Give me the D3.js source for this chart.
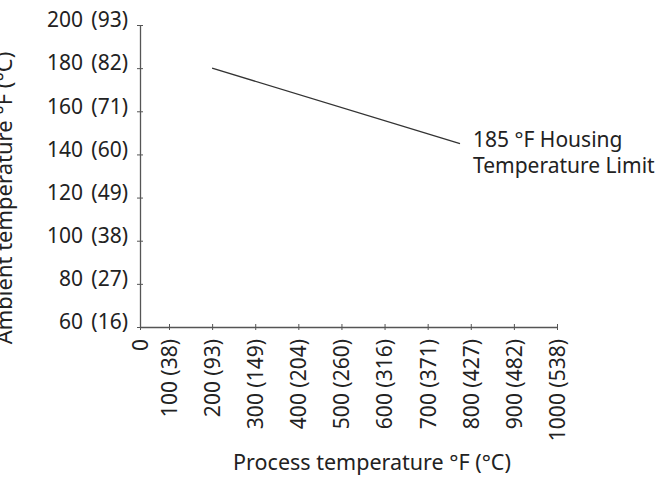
<!DOCTYPE html>
<html>
<head>
<meta charset="utf-8">
<script src="https://cdn.jsdelivr.net/npm/d3@7"></script>
<style>
  body { margin: 0; background: #fff; }
  text { font-family: "Noto Sans", sans-serif; fill: #222; }
</style>
</head>
<body>
<script>
var xTicks = [0, 100, 200, 300, 400, 500, 600, 700, 800, 900, 1000],
	xTickLabels = ["0", "100 (38)", "200 (93)", "300 (149)", "400 (204)", "500 (260)",
		"600 (316)", "700 (371)", "800 (427)", "900 (482)", "1000 (538)"],
	yTicks = [60, 80, 100, 120, 140, 160, 180, 200],
	yTickLabels = ["60 (16)", "80 (27)", "100 (38)", "120 (49)", "140 (60)",
		"160 (71)", "180 (82)", "200 (93)"],
	limitProcess = [200, 775],
	limitAmbient = [180, 145],
	limitLabel = ["185 °F Housing", "Temperature Limit"];

var w = 666,
	h = 483,
	axisColor = "#555";

var svg = d3.select("body")
	.append("svg")
	.attr("width", w)
	.attr("height", h);

// the first interval (0-100) is drawn shorter than the rest
var x = d3.scaleLinear()
	.domain([0, 100, 1000])
	.range([140, 169, 557]);

var y = d3.scaleLinear()
	.domain([60, 200])
	.range([327, 25]);

// y axis
var yAxis = svg.append("g")
	.attr("transform", "translate(" + x(0) + ",0)")
	.call(d3.axisLeft(y)
		.tickValues(yTicks)
		.tickSizeOuter(0)
		.tickFormat(function (d, i) { return yTickLabels[i]; }));

yAxis.select(".domain").attr("stroke", axisColor).attr("stroke-width", 1.3);
yAxis.selectAll(".tick line")
	.attr("x1", 3).attr("x2", -3)
	.attr("stroke", axisColor);
yAxis.selectAll(".tick text")
	.attr("x", -12)
	.attr("y", -5)
	.style("font-size", "21px")
	.style("word-spacing", "3px")
	.style("font-family", "'Noto Sans', sans-serif")
	.attr("fill", "#222");

// x axis
var xAxis = svg.append("g")
	.attr("transform", "translate(0," + y(60) + ")")
	.call(d3.axisBottom(x)
		.tickValues(xTicks)
		.tickSizeOuter(0)
		.tickFormat(function (d, i) { return xTickLabels[i]; }));

xAxis.select(".domain").attr("stroke", axisColor).attr("stroke-width", 1.3);
xAxis.selectAll(".tick line")
	.attr("y1", -3).attr("y2", 3)
	.attr("stroke", axisColor);
xAxis.selectAll(".tick text")
	.attr("transform", "rotate(-90)")
	.attr("text-anchor", "end")
	.attr("x", -12)
	.attr("y", 0)
	.attr("dy", "0.35em")
	.style("font-size", "21px")
	.style("font-family", "'Noto Sans', sans-serif")
	.attr("fill", "#222");

// housing temperature limit line
var pts = limitProcess.map(function (d, i) { return [d, limitAmbient[i]]; });

svg.append("path")
	.datum(pts)
	.attr("fill", "none")
	.attr("stroke", "#333")
	.attr("stroke-width", 1.3)
	.attr("d", d3.line()
		.x(function (d) { return x(d[0]); })
		.y(function (d) { return y(d[1]); }));

svg.append("text")
	.attr("x", 473)
	.attr("y", 147)
	.style("font-size", "21px")
	.selectAll("tspan")
	.data(limitLabel)
	.enter()
	.append("tspan")
	.attr("x", 473)
	.attr("dy", function (d, i) { return i ? 26 : 0; })
	.text(function (d) { return d; });

// axis titles
svg.append("text")
	.attr("x", 372)
	.attr("y", 470)
	.attr("text-anchor", "middle")
	.style("font-size", "21.5px")
	.text("Process temperature °F (°C)");

svg.append("text")
	.attr("transform", "translate(12,198) rotate(-90)")
	.attr("text-anchor", "middle")
	.style("font-size", "22px")
	.text("Ambient temperature °F (°C)");
</script>
</body>
</html>
